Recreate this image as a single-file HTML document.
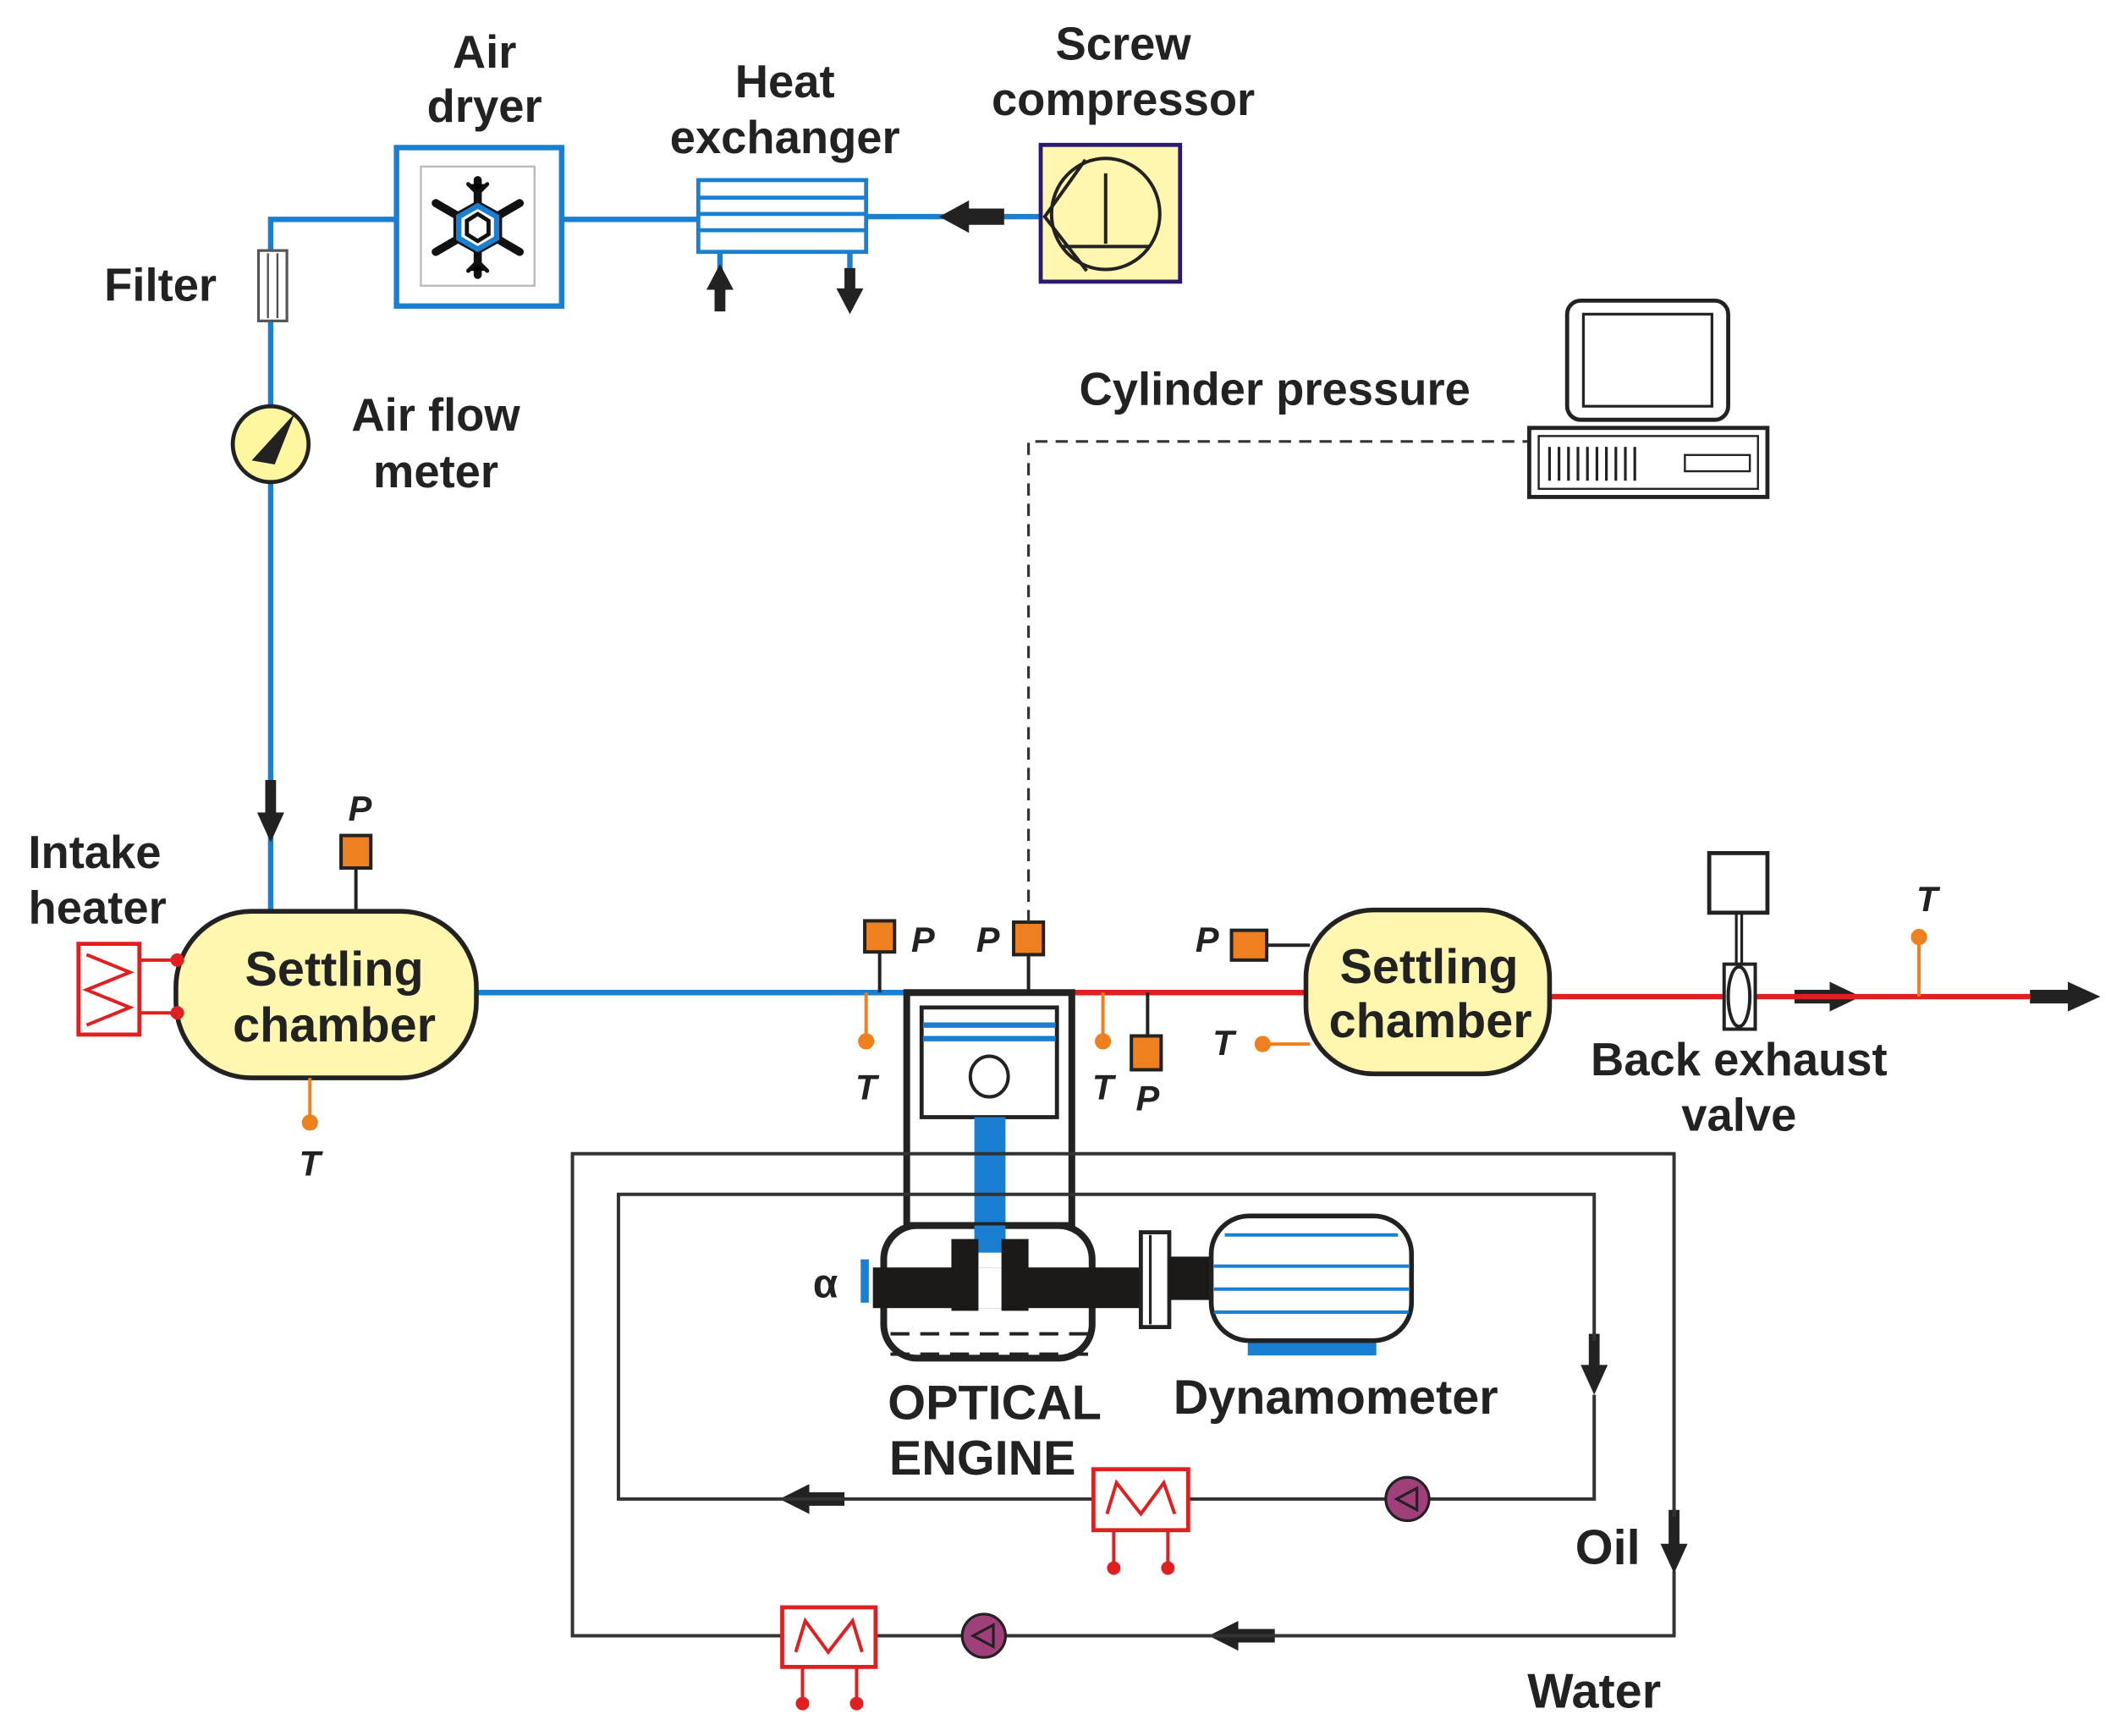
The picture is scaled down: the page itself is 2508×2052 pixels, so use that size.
<!DOCTYPE html>
<html><head><meta charset="utf-8"><style>
html,body{margin:0;padding:0;background:#fff}
svg{display:block}
text{font-family:"Liberation Sans",sans-serif;font-weight:bold;fill:#222}
</style></head><body>
<svg width="2508" height="2052" viewBox="0 0 1568 1282" preserveAspectRatio="none" xmlns="http://www.w3.org/2000/svg">
<g stroke="#1a7fd0" stroke-width="4" fill="none">
<polyline points="200,672 200,162 292,162"/>
<line x1="415" y1="162" x2="516" y2="162"/>
<line x1="640" y1="160" x2="769" y2="160"/>
<line x1="532" y1="186" x2="532" y2="200"/>
<line x1="628" y1="186" x2="628" y2="205"/>
<line x1="352" y1="733" x2="670" y2="733"/>
</g>
<g fill="#222">
<polygon points="694,160 716,148 716,154 742,154 742,166 716,166 716,172"/>
<polygon points="532,195 522,214 528,214 528,230 536,230 536,214 542,214"/>
<polygon points="628,232 618,213 624,213 624,198 632,198 632,213 638,213"/>
<polygon points="200,622 190,600 196,600 196,576 204,576 204,600 210,600"/>
<polygon points="1375,736 1352,725 1352,731 1326,731 1326,741 1352,741 1352,747"/>
<polygon points="1552,736 1528,725 1528,731 1500,731 1500,741 1528,741 1528,747"/>
<polygon points="1178,1030 1168,1008 1174,1008 1174,985 1182,985 1182,1008 1188,1008"/>
<polygon points="1237,1162 1227,1140 1233,1140 1233,1115 1241,1115 1241,1140 1247,1140"/>
<polygon points="576,1107 598,1096 598,1102 624,1102 624,1112 598,1112 598,1118"/>
<polygon points="893,1208 915,1197 915,1203 942,1203 942,1213 915,1213 915,1219"/>
</g>
<rect x="293" y="109" width="122" height="117" fill="#fff" stroke="#1a7fd0" stroke-width="4"/>
<rect x="311" y="123" width="84" height="88" fill="#fff" stroke="#bbb" stroke-width="1.5"/>
<g stroke="#111" stroke-width="6" stroke-linecap="round">
<line x1="353" y1="133" x2="353" y2="203"/>
<line x1="322" y1="150" x2="384" y2="186"/>
<line x1="322" y1="186" x2="384" y2="150"/>
</g>
<g stroke="#111" stroke-width="3" stroke-linecap="round">
<polyline points="346,136 353,143 360,136"/><polyline points="346,200 353,193 360,200"/>
</g>
<polygon points="353,148 371,158 371,178 353,188 335,178 335,158" fill="#111"/>
<polygon points="353,152 367,160 367,176 353,184 339,176 339,160" fill="#fff" stroke="#1a7fd0" stroke-width="4"/>
<polygon points="353,158 361,163 361,173 353,178 345,173 345,163" fill="#fff" stroke="#111" stroke-width="3"/>
<rect x="516" y="133" width="124" height="53" fill="#fff" stroke="#1a7fd0" stroke-width="3"/>
<g stroke="#1a7fd0" stroke-width="3"><line x1="516" y1="146" x2="640" y2="146"/><line x1="516" y1="158" x2="640" y2="158"/><line x1="516" y1="170" x2="640" y2="170"/></g>
<rect x="769" y="107" width="103" height="101" fill="#fff7b0" stroke="#2a1a6e" stroke-width="3"/>
<ellipse cx="817" cy="158" rx="40" ry="41" fill="none" stroke="#222" stroke-width="2.5"/>
<line x1="817" y1="128" x2="817" y2="180" stroke="#222" stroke-width="2.5"/>
<line x1="785" y1="182" x2="849" y2="182" stroke="#222" stroke-width="2.5"/>
<polyline points="802,118 772,160 803,200" fill="none" stroke="#222" stroke-width="2.5"/>
<rect x="191" y="185" width="21" height="52" fill="#fff" stroke="#555" stroke-width="2"/>
<line x1="198" y1="187" x2="198" y2="235" stroke="#555" stroke-width="1.5"/><line x1="205" y1="187" x2="205" y2="235" stroke="#555" stroke-width="1.5"/>
<circle cx="200" cy="328" r="28" fill="#fff7a0" stroke="#222" stroke-width="3"/>
<polygon points="218,305 186,340 203,343" fill="#222"/>
<rect x="130" y="673" width="222" height="123" rx="56" fill="#fff7b0" stroke="#222" stroke-width="3.5"/>
<text x="247" y="728" font-size="36" text-anchor="middle">Settling</text>
<text x="247" y="769" font-size="36" text-anchor="middle">chamber</text>
<line x1="263" y1="641" x2="263" y2="673" stroke="#222" stroke-width="2.5"/>
<rect x="252" y="617" width="22" height="24" fill="#ee8020" stroke="#222" stroke-width="2.5"/>
<text x="266" y="606" font-size="26" font-style="italic" text-anchor="middle">P</text>
<line x1="229" y1="796" x2="229" y2="828" stroke="#ee8020" stroke-width="2.5"/><circle cx="229" cy="829" r="6" fill="#ee8020"/>
<text x="229" y="868" font-size="26" font-style="italic" text-anchor="middle">T</text>
<rect x="58" y="697" width="45" height="67" fill="#fff" stroke="#e02020" stroke-width="3"/>
<polyline points="64,705 96,718 64,731 96,744 64,757" fill="none" stroke="#e02020" stroke-width="2.5"/>
<g stroke="#e02020" stroke-width="2.5"><line x1="103" y1="709" x2="131" y2="709"/><line x1="103" y1="748" x2="131" y2="748"/></g>
<circle cx="131" cy="709" r="5" fill="#e02020"/><circle cx="131" cy="748" r="5" fill="#e02020"/>
<line x1="792" y1="733" x2="965" y2="733" stroke="#e02020" stroke-width="4"/>
<rect x="670" y="733" width="122" height="172" fill="#fff" stroke="#222" stroke-width="5"/>
<rect x="681" y="744" width="100" height="81" fill="#fff" stroke="#222" stroke-width="3"/>
<line x1="682" y1="757" x2="780" y2="757" stroke="#1a7fd0" stroke-width="4"/><line x1="682" y1="767" x2="780" y2="767" stroke="#1a7fd0" stroke-width="4"/>
<ellipse cx="731" cy="795" rx="14" ry="15" fill="#fff" stroke="#222" stroke-width="2.5"/>
<rect x="720" y="825" width="23" height="100" fill="#1a7fd0"/>
<rect x="653" y="905" width="154" height="98" rx="25" fill="none" stroke="#222" stroke-width="5"/>
<rect x="720" y="905" width="23" height="20" fill="#1a7fd0"/>
<rect x="645" y="936" width="200" height="30" fill="#1c1a18"/>
<rect x="703" y="915" width="20" height="53" fill="#1c1a18"/><rect x="740" y="915" width="20" height="53" fill="#1c1a18"/>
<rect x="723" y="936" width="17" height="30" fill="#fff"/>
<rect x="636" y="930" width="6" height="32" fill="#1a7fd0"/>
<line x1="658" y1="985" x2="805" y2="985" stroke="#222" stroke-width="2.5" stroke-dasharray="14,8"/>
<line x1="658" y1="1000" x2="805" y2="1000" stroke="#222" stroke-width="2.5" stroke-dasharray="14,8"/>
<text x="610" y="958" font-size="30" font-weight="normal" text-anchor="middle">α</text>
<rect x="843" y="910" width="21" height="70" fill="#fff" stroke="#222" stroke-width="3"/>
<line x1="850" y1="912" x2="850" y2="978" stroke="#222" stroke-width="2"/>
<rect x="864" y="928" width="34" height="32" fill="#1c1a18"/>
<rect x="922" y="986" width="95" height="15" fill="#1a7fd0"/>
<rect x="895" y="898" width="148" height="92" rx="28" fill="#fff" stroke="#222" stroke-width="3.5"/>
<g stroke="#1a7fd0" stroke-width="2.5"><line x1="905" y1="912" x2="1033" y2="912"/><line x1="897" y1="935" x2="1041" y2="935"/><line x1="897" y1="952" x2="1041" y2="952"/><line x1="897" y1="969" x2="1041" y2="969"/></g>
<text x="735" y="1048" font-size="36" text-anchor="middle">OPTICAL</text>
<text x="726" y="1089" font-size="36" text-anchor="middle">ENGINE</text>
<text x="987" y="1044" font-size="36" text-anchor="middle">Dynamometer</text>
<line x1="650" y1="703" x2="650" y2="733" stroke="#222" stroke-width="2.5"/>
<rect x="639" y="680" width="22" height="23" fill="#ee8020" stroke="#222" stroke-width="2.5"/>
<text x="682" y="703" font-size="26" font-style="italic" text-anchor="middle">P</text>
<line x1="760" y1="705" x2="760" y2="733" stroke="#222" stroke-width="2.5"/>
<rect x="749" y="681" width="22" height="24" fill="#ee8020" stroke="#222" stroke-width="2.5"/>
<text x="730" y="703" font-size="26" font-style="italic" text-anchor="middle">P</text>
<polyline points="760,681 760,326 1130,326" fill="none" stroke="#333" stroke-width="2" stroke-dasharray="9,6"/>
<line x1="640" y1="733" x2="640" y2="768" stroke="#ee8020" stroke-width="2.5"/><circle cx="640" cy="769" r="6" fill="#ee8020"/>
<text x="640" y="812" font-size="26" font-style="italic" text-anchor="middle">T</text>
<line x1="815" y1="733" x2="815" y2="768" stroke="#ee8020" stroke-width="2.5"/><circle cx="815" cy="769" r="6" fill="#ee8020"/>
<text x="815" y="812" font-size="26" font-style="italic" text-anchor="middle">T</text>
<line x1="848" y1="733" x2="848" y2="765" stroke="#222" stroke-width="2.5"/>
<rect x="836" y="765" width="22" height="25" fill="#ee8020" stroke="#222" stroke-width="2.5"/>
<text x="848" y="820" font-size="26" font-style="italic" text-anchor="middle">P</text>
<line x1="936" y1="698" x2="968" y2="698" stroke="#222" stroke-width="2.5"/>
<rect x="910" y="687" width="26" height="22" fill="#ee8020" stroke="#222" stroke-width="2.5"/>
<text x="892" y="703" font-size="26" font-style="italic" text-anchor="middle">P</text>
<line x1="933" y1="771" x2="968" y2="771" stroke="#ee8020" stroke-width="2.5"/><circle cx="933" cy="771" r="6" fill="#ee8020"/>
<text x="904" y="779" font-size="26" font-style="italic" text-anchor="middle">T</text>
<line x1="1145" y1="736" x2="1500" y2="736" stroke="#e02020" stroke-width="4"/>
<rect x="965" y="672" width="180" height="121" rx="50" fill="#fff7b0" stroke="#222" stroke-width="3.5"/>
<text x="1056" y="726" font-size="36" text-anchor="middle">Settling</text>
<text x="1057" y="766" font-size="36" text-anchor="middle">chamber</text>
<line x1="1285" y1="674" x2="1285" y2="712" stroke="#222" stroke-width="6"/><line x1="1285" y1="674" x2="1285" y2="712" stroke="#fff" stroke-width="2"/>
<rect x="1263" y="630" width="43" height="44" fill="#fff" stroke="#222" stroke-width="3"/>
<rect x="1274" y="712" width="23" height="48" fill="#fff" stroke="#222" stroke-width="2.5"/>
<ellipse cx="1285" cy="736" rx="8" ry="22" fill="#fff" stroke="#222" stroke-width="2.5"/>
<text x="1285" y="794" font-size="34" text-anchor="middle">Back exhaust</text>
<text x="1285" y="835" font-size="34" text-anchor="middle">valve</text>
<line x1="1418" y1="692" x2="1418" y2="736" stroke="#ee8020" stroke-width="2.5"/><circle cx="1418" cy="692" r="6" fill="#ee8020"/>
<text x="1424" y="673" font-size="26" font-style="italic" text-anchor="middle">T</text>
<rect x="1158" y="222" width="119" height="88" rx="10" fill="#fff" stroke="#222" stroke-width="3"/>
<rect x="1170" y="232" width="95" height="68" fill="#fff" stroke="#222" stroke-width="2"/>
<rect x="1130" y="316" width="176" height="51" fill="#fff" stroke="#222" stroke-width="3"/>
<rect x="1137" y="322" width="162" height="39" fill="#fff" stroke="#222" stroke-width="1.5"/>
<g stroke="#222" stroke-width="2"><line x1="1145" y1="330" x2="1145" y2="355"/><line x1="1152" y1="330" x2="1152" y2="355"/><line x1="1159" y1="330" x2="1159" y2="355"/><line x1="1166" y1="330" x2="1166" y2="355"/><line x1="1173" y1="330" x2="1173" y2="355"/><line x1="1180" y1="330" x2="1180" y2="355"/><line x1="1187" y1="330" x2="1187" y2="355"/><line x1="1194" y1="330" x2="1194" y2="355"/><line x1="1201" y1="330" x2="1201" y2="355"/><line x1="1208" y1="330" x2="1208" y2="355"/></g>
<rect x="1245" y="336" width="48" height="12" fill="none" stroke="#222" stroke-width="1.5"/>
<polyline points="1178,990 1178,882 457,882 457,1107 1178,1107 1178,1030" fill="none" stroke="#333" stroke-width="2.5"/>
<rect x="808" y="1085" width="70" height="45" fill="#fff" stroke="#e02020" stroke-width="3"/>
<polyline points="818,1118 825,1095 843,1118 860,1095 868,1118" fill="none" stroke="#e02020" stroke-width="2.5"/>
<g stroke="#e02020" stroke-width="2.5"><line x1="823" y1="1130" x2="823" y2="1158"/><line x1="863" y1="1130" x2="863" y2="1158"/></g>
<circle cx="823" cy="1158" r="5" fill="#e02020"/><circle cx="863" cy="1158" r="5" fill="#e02020"/>
<circle cx="1040" cy="1107" r="16" fill="#a0407a" stroke="#222" stroke-width="2"/>
<polygon points="1032,1107 1047,1099 1047,1115" fill="none" stroke="#222" stroke-width="2"/>
<text x="1188" y="1155" font-size="36" text-anchor="middle">Oil</text>
<polyline points="1237,1120 1237,852 423,852 423,1208 1237,1208 1237,1160" fill="none" stroke="#333" stroke-width="2.5"/>
<rect x="578" y="1187" width="69" height="44" fill="#fff" stroke="#e02020" stroke-width="3"/>
<polyline points="588,1220 595,1197 612,1220 630,1197 637,1220" fill="none" stroke="#e02020" stroke-width="2.5"/>
<g stroke="#e02020" stroke-width="2.5"><line x1="593" y1="1231" x2="593" y2="1258"/><line x1="633" y1="1231" x2="633" y2="1258"/></g>
<circle cx="593" cy="1258" r="5" fill="#e02020"/><circle cx="633" cy="1258" r="5" fill="#e02020"/>
<circle cx="727" cy="1208" r="16" fill="#a0407a" stroke="#222" stroke-width="2"/>
<polygon points="719,1208 734,1200 734,1216" fill="none" stroke="#222" stroke-width="2"/>
<text x="1178" y="1261" font-size="36" text-anchor="middle">Water</text>
<text x="358" y="50" font-size="34" text-anchor="middle">Air</text>
<text x="358" y="90" font-size="34" text-anchor="middle">dryer</text>
<text x="580" y="72" font-size="34" text-anchor="middle">Heat</text>
<text x="580" y="113" font-size="34" text-anchor="middle">exchanger</text>
<text x="830" y="44" font-size="34" text-anchor="middle">Screw</text>
<text x="830" y="85" font-size="34" text-anchor="middle">compressor</text>
<text x="77" y="222" font-size="34">Filter</text>
<text x="322" y="318" font-size="34" text-anchor="middle">Air flow</text>
<text x="322" y="360" font-size="34" text-anchor="middle">meter</text>
<text x="70" y="641" font-size="34" text-anchor="middle">Intake</text>
<text x="72" y="682" font-size="34" text-anchor="middle">heater</text>
<text x="942" y="299" font-size="34" text-anchor="middle">Cylinder pressure</text>
</svg>
</body></html>
